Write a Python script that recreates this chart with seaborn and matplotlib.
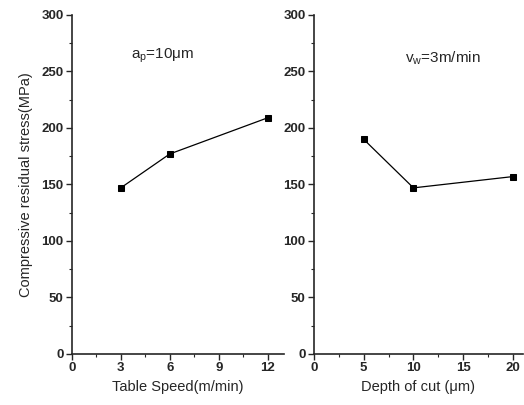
import matplotlib
matplotlib.use("Agg")
import matplotlib.pyplot as plt
import seaborn as sns
import pandas as pd
from matplotlib.ticker import MultipleLocator

table_speed = [3, 6, 12]
stress_speed = [147, 177, 209]
depth_cut = [5, 10, 20]
stress_depth = [190, 147, 157]

sns.set_style("ticks")
plt.rcParams['font.family'] = ['Liberation Sans', 'DejaVu Sans']
plt.rcParams['mathtext.fontset'] = 'custom'
plt.rcParams['mathtext.rm'] = 'Liberation Sans'
plt.rcParams['mathtext.it'] = 'Liberation Sans'

fig = plt.figure(figsize=(5.24, 4.05), dpi=100)
ax1 = fig.add_axes([0.137, 0.126, 0.405, 0.837])
ax2 = fig.add_axes([0.599, 0.126, 0.399, 0.837])

df1 = pd.DataFrame({"x": table_speed, "y": stress_speed})
df2 = pd.DataFrame({"x": depth_cut, "y": stress_depth})

for ax, df in [(ax1, df1), (ax2, df2)]:
    sns.lineplot(data=df, x="x", y="y", ax=ax, color="black", marker="s",
                 markersize=5, linewidth=0.9, markeredgecolor="black")
    sns.despine(ax=ax)
    ax.set_ylim(0, 300)
    ax.yaxis.set_major_locator(MultipleLocator(50))
    ax.yaxis.set_minor_locator(MultipleLocator(25))
    ax.tick_params(axis='both', which='major', direction='out', length=4, width=1, labelsize=9.5, pad=2)
    ax.tick_params(axis='both', which='minor', direction='out', length=2, width=0.8)
    for lab in ax.get_xticklabels() + ax.get_yticklabels():
        lab.set_fontweight('bold')
    for s in ax.spines.values():
        s.set_linewidth(1.2)

ax1.set_xlim(0, 13)
ax1.xaxis.set_major_locator(MultipleLocator(3))
ax1.xaxis.set_minor_locator(MultipleLocator(1.5))
ax2.set_xlim(0, 21)
ax2.xaxis.set_major_locator(MultipleLocator(5))
ax2.xaxis.set_minor_locator(MultipleLocator(2.5))
for ax in (ax1, ax2):
    for lab in ax.get_xticklabels() + ax.get_yticklabels():
        lab.set_fontweight('bold')

ax1.set_xlabel("Table Speed(m/min)", fontsize=10.5, labelpad=4)
ax1.set_ylabel("Compressive residual stress(MPa)", fontsize=10.5, labelpad=6)
ax2.set_xlabel("Depth of cut (\u03bcm)", fontsize=10.5, labelpad=4)
ax2.set_ylabel("")

ax1.text(3.6, 261, "a$_\\mathregular{p}$=10\u03bcm", fontsize=11)
ax2.text(9.2, 258, "v$_\\mathregular{w}$=3m/min", fontsize=11)

fig.savefig("out.png", dpi=100)
